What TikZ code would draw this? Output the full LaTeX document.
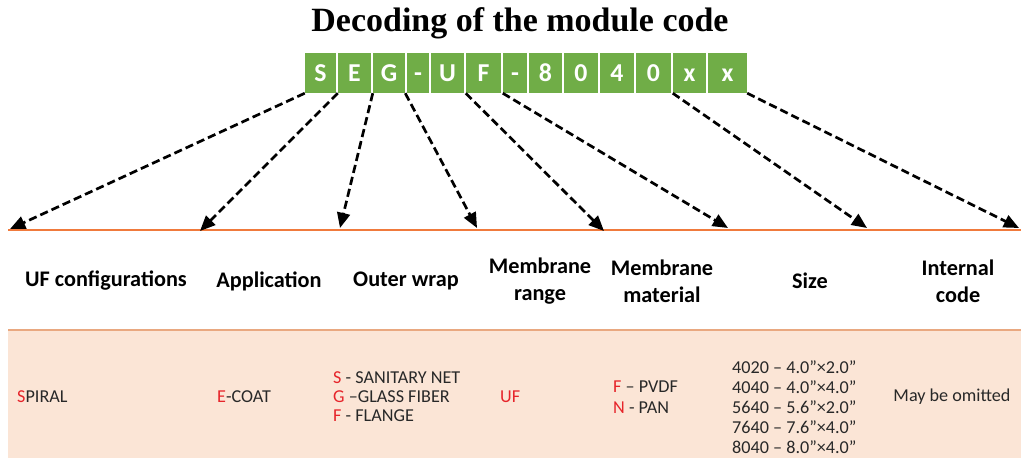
\documentclass[tikz,border=0pt]{standalone}
\usepackage{fontspec}
\setmainfont{Carlito}
\newfontfamily\titlefont{Liberation Serif}
\usetikzlibrary{arrows.meta}
\definecolor{cellgreen}{RGB}{112,173,71}
\definecolor{codered}{RGB}{230,36,42}
\definecolor{lineorange}{RGB}{240,122,60}
\definecolor{peach}{RGB}{251,229,214}
\definecolor{peachline}{RGB}{233,168,128}
\definecolor{bodygray}{RGB}{40,40,40}
\newcommand{\rl}[1]{\textcolor{codered}{#1}}

\begin{document}
\begin{tikzpicture}[x=0.03cm,y=-0.03cm,
  cell/.style={fill=cellgreen,text=white,inner sep=0pt,minimum height=40*0.03cm,text height=14pt,text depth=0pt,font=\fontsize{22}{24}\selectfont\bfseries},
  arr/.style={line width=2.3pt,dash pattern=on 7pt off 3.5pt,-{Triangle[length=13pt,width=11pt]}},
  head/.style={font=\fontsize{19}{23}\selectfont\bfseries,align=center,inner sep=0pt},
  body/.style={font=\fontsize{15.5}{16}\selectfont,text=bodygray,align=left,anchor=west,inner sep=0pt}]
\useasboundingbox (0,0) rectangle (1021,458);
% title
\node[font=\titlefont\fontsize{29}{32}\selectfont\bfseries] (title) at (520,23) {Decoding of the module code};
% code cells
\foreach \n/\l/\r/\t in {c1/305/336/S,c2/338/371/E,c3/373/405/G,c4/407/429/-,c5/431/464/U,c6/466/501/F,c7/503/527/-,c8/529/562/8,c9/564/598/0,c10/600/634/4,c11/636/671/0,c12/673/706/x,c13/708/747/x}
  \node[cell,minimum width={(\r-\l)*0.03cm}] (\n) at ({(\l+\r)/2},73) {\t};
% lines
\draw[lineorange,line width=1pt] (8,230)--(1021,230);
\fill[peach] (8,330) rectangle (1021,458);
\draw[peachline,line width=1pt] (8,330)--(1021,330);
% arrow ends
\coordinate (t1) at (10,229);
\coordinate (t2) at (200,231);
\coordinate (t3) at (340,228);
\coordinate (t4) at (477,228);
\coordinate (t5) at (604,231);
\coordinate (t6) at (728,228);
\coordinate (t7) at (867,228);
\coordinate (t8) at (1019,228);
\draw[arr] (c1.south west)--(t1);
\draw[arr] (c2.south west)--(t2);
\draw[arr] (c3.south west)--(t3);
\draw[arr] (c3.south east)--(t4);
\draw[arr] (c6.south west)--(t5);
\draw[arr] (c7.south west)--(t6);
\draw[arr] (c12.south west)--(t7);
\draw[arr] (c13.south east)--(t8);
% headers
\node[head] (h1) at (106,281) {UF configurations};
\node[head] (h2) at (269,281) {Application};
\node[head] (h3) at (406,281) {Outer wrap};
\node[head] (h4) at (540,281) {Membrane\\range};
\node[head] (h5) at (662,281) {Membrane\\material};
\node[head] (h6) at (810,281) {Size};
\node[head] (h7) at (958,281) {Internal\\code};
% values
\node[body] (v1) at (17,397) {\rl{S}PIRAL};
\node[body] (v2) at (217,397) {\rl{E}-COAT};
\node[body,font=\fontsize{15.5}{16.2}\selectfont] (v3) at (333,397) {\rl{S} - SANITARY NET\\\rl{G} –GLASS FIBER\\\rl{F} - FLANGE};
\node[body] (v4) at (500,397) {\rl{UF}};
\node[body,font=\fontsize{15.5}{17.8}\selectfont] (v5) at (613,397) {\rl{F} – PVDF\\\rl{N} - PAN};
\node[body,font=\fontsize{15.5}{17}\selectfont] (v6) at (732,407) {4020 – 4.0”×2.0”\\4040 – 4.0”×4.0”\\5640 – 5.6”×2.0”\\7640 – 7.6”×4.0”\\8040 – 8.0”×4.0”};
\node[body,anchor=center] (v7) at (952,397) {May be omitted};
\end{tikzpicture}
\end{document}
